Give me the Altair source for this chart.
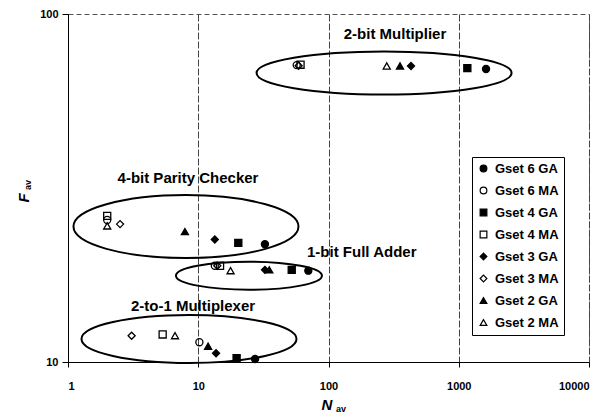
import altair as alt
import pandas as pd

# ---- data ----
series = ["Gset 6 GA", "Gset 6 MA", "Gset 4 GA", "Gset 4 MA",
          "Gset 3 GA", "Gset 3 MA", "Gset 2 GA", "Gset 2 MA"]

mult_n = [1620, 57, 1164, 61, 430, 59, 354, 280]
mult_f = [69.5, 71.3, 69.9, 71.5, 70.9, 71.0, 70.9, 70.9]
parity_n = [32.5, 2.0, 20.3, 2.0, 13.4, 2.51, 7.9, 2.0]
parity_f = [21.8, 25.6, 22.0, 26.3, 22.5, 24.9, 23.7, 24.6]
adder_n = [70, 13.4, 52.2, 14.7, 32.5, 14.0, 35.1, 17.7]
adder_f = [18.3, 18.9, 18.4, 18.9, 18.4, 18.9, 18.4, 18.3]
mux_n = [27.3, 10.2, 19.7, 5.33, 13.7, 3.08, 11.9, 6.63]
mux_f = [10.2, 11.4, 10.25, 12.0, 10.6, 11.9, 11.1, 11.9]

groups = ["2-bit Multiplier", "4-bit Parity Checker", "1-bit Full Adder", "2-to-1 Multiplexer"]
ellipse_n = [267, 8.05, 24.5, 8.49]
ellipse_f = [67.7, 24.5, 17.7, 11.64]
label_n = [324, 8.34, 180, 9.12]
label_f = [87.6, 33.8, 20.7, 14.5]

x_ticks = [1, 10, 100, 1000, 10000]
y_ticks = [10, 100]

# ---- styling ----
shape_range = ["circle", "circle", "square", "square",
               "diamond", "diamond", "triangle-up", "triangle-up"]
fill_range = ["black", "transparent"] * 4
ellipse_width_px = [255, 225, 146, 215]
ellipse_ratio = [0.169, 0.28, 0.192, 0.223]
FONT = "Liberation Sans"


def ellipse_path(k):
    c = 0.5523
    return (f"M -1 0 C -1 {-c*k:.4f} {-c:.4f} {-k:.4f} 0 {-k:.4f} "
            f"C {c:.4f} {-k:.4f} 1 {-c*k:.4f} 1 0 "
            f"C 1 {c*k:.4f} {c:.4f} {k:.4f} 0 {k:.4f} "
            f"C {-c:.4f} {k:.4f} -1 {c*k:.4f} -1 0 Z")


rows = []
for ns, fs in [(mult_n, mult_f), (parity_n, parity_f), (adder_n, adder_f), (mux_n, mux_f)]:
    for s, n, f in zip(series, ns, fs):
        rows.append({"series": s, "N": n, "F": f})
pts = pd.DataFrame(rows)

ell = pd.DataFrame({
    "group": groups, "N": ellipse_n, "F": ellipse_f,
    "path": [ellipse_path(k) for k in ellipse_ratio],
    "size": [w * w for w in ellipse_width_px],
})
lab = pd.DataFrame({"group": groups, "N": label_n, "F": label_f})

xscale = alt.Scale(type="log", domain=[1, 10000], nice=False)
yscale = alt.Scale(type="log", domain=[10, 100], nice=False)

xaxis = alt.Axis(values=x_ticks, format="d", title=None, grid=True,
                 gridColor="#444", gridDash=[7, 2], gridWidth=1,
                 domainColor="black", tickColor="black", tickSize=5,
                 labelPadding=13, labelFontSize=11, labelFont=FONT,
                 labelColor="black", labelFontWeight="bold")
yaxis = alt.Axis(values=y_ticks, format="d", title=None, grid=False,
                 domainColor="black", tickColor="black", tickSize=6,
                 labelPadding=4, labelFontSize=11, labelFont=FONT,
                 labelColor="black", labelFontWeight="bold")

legend = alt.Legend(orient="none", legendX=404, legendY=143, title=None,
                    strokeColor="black", fillColor="white", padding=5,
                    labelFont=FONT, labelFontSize=13, labelFontWeight="bold",
                    labelColor="black", labelOffset=5,
                    symbolSize=45, symbolStrokeColor="black", symbolStrokeWidth=1.2,
                    rowPadding=8)

ellipses = alt.Chart(ell).mark_point(filled=False, color="black", strokeWidth=2, opacity=1).encode(
    x=alt.X("N:Q", scale=xscale, axis=xaxis),
    y=alt.Y("F:Q", scale=yscale, axis=yaxis),
    shape=alt.Shape("path:N", scale=None),
    size=alt.Size("size:Q", scale=None),
)

points = alt.Chart(pts).mark_point(strokeWidth=1.3, opacity=1, size=50).encode(
    x=alt.X("N:Q", scale=xscale),
    y=alt.Y("F:Q", scale=yscale),
    shape=alt.Shape("series:N", scale=alt.Scale(domain=series, range=shape_range), legend=legend),
    fill=alt.Fill("series:N", scale=alt.Scale(domain=series, range=fill_range), legend=legend),
    stroke=alt.value("black"),
)

labels = alt.Chart(lab).mark_text(font=FONT, fontSize=15, fontWeight="bold", color="black").encode(
    x=alt.X("N:Q", scale=xscale),
    y=alt.Y("F:Q", scale=yscale),
    text="group:N",
)

one = pd.DataFrame({"a": [0]})
ytitle_main = alt.Chart(one).mark_text(text="F", font=FONT, fontSize=15, fontStyle="italic",
                                       fontWeight="bold", angle=270, color="black").encode(
    x=alt.value(-44), y=alt.value(184))
ytitle_sub = alt.Chart(one).mark_text(text="av", font=FONT, fontSize=9, fontWeight="bold",
                                      angle=270, color="black").encode(
    x=alt.value(-40), y=alt.value(171))
xtitle_main = alt.Chart(one).mark_text(text="N", font=FONT, fontSize=15, fontStyle="italic",
                                       fontWeight="bold", color="black").encode(
    x=alt.value(259), y=alt.value(391))
xtitle_sub = alt.Chart(one).mark_text(text="av", font=FONT, fontSize=9, fontWeight="bold",
                                      color="black").encode(
    x=alt.value(273), y=alt.value(395))

chart = alt.layer(ellipses, points, labels, ytitle_main, ytitle_sub, xtitle_main, xtitle_sub).properties(
    width=521, height=348,
    padding={"left": 68, "top": 14, "right": 26, "bottom": 56},
    autosize=alt.AutoSizeParams(type="none"),
    background="white",
).configure_view(stroke="#555", strokeDash=[5, 3], strokeWidth=1)

chart.save("out.html", embed_options={"renderer": "svg", "actions": False})
